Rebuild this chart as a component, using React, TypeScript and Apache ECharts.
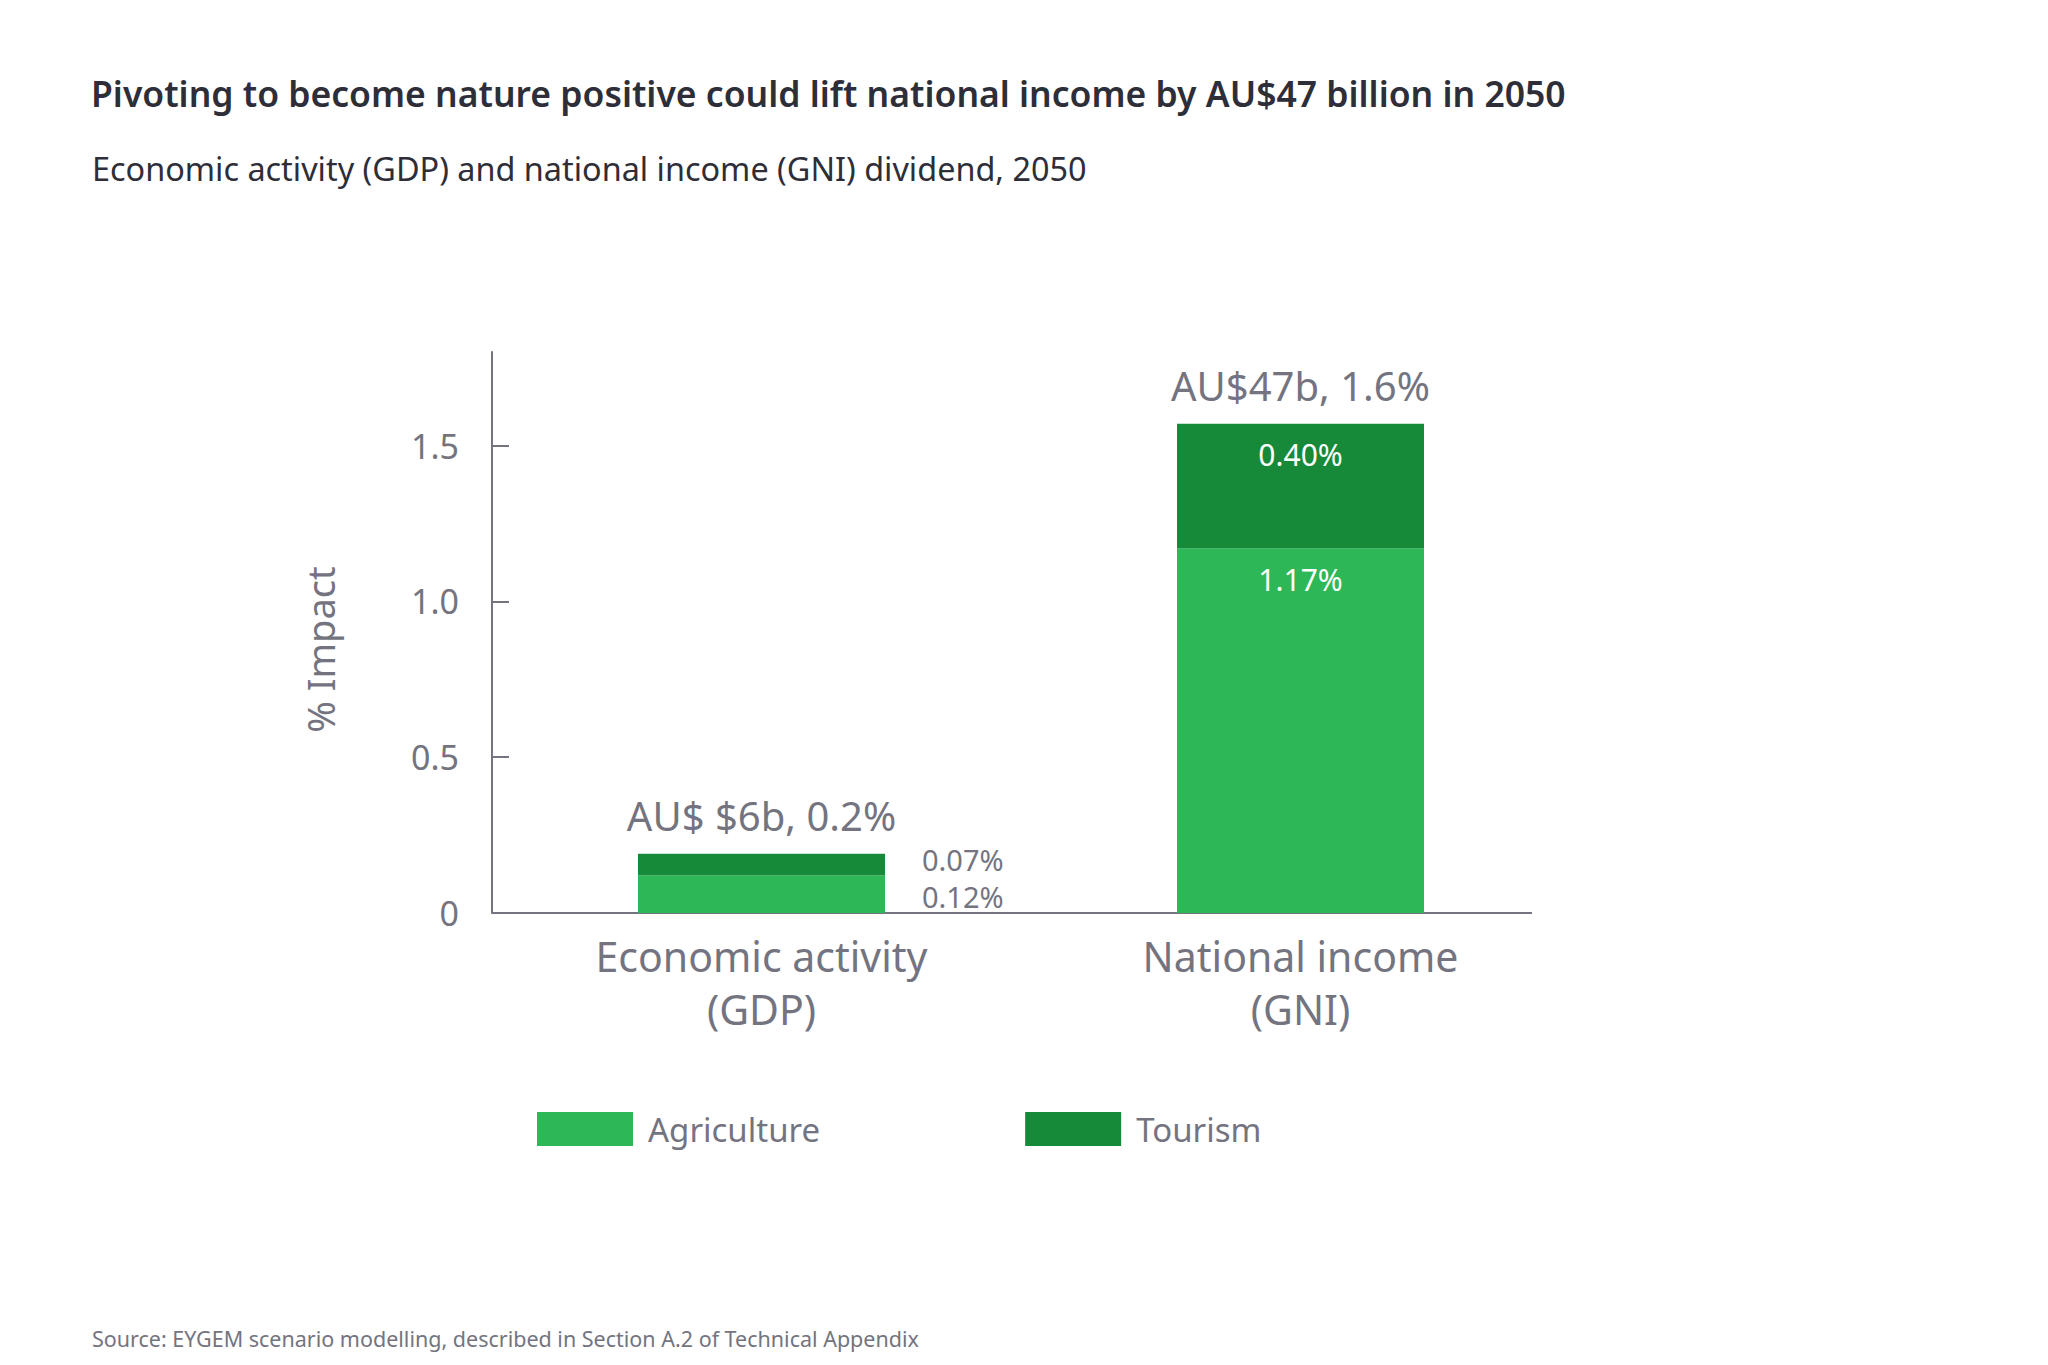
import React, { useEffect, useRef } from "react";
import * as echarts from "echarts";

const categories = ["Economic activity\n(GDP)", "National income\n(GNI)"];
const agriculture = [0.12, 1.17];
const tourism = [0.07, 0.4];
const agricultureLabels = ["0.12%", "1.17%"];
const tourismLabels = ["0.07%", "0.40%"];
const totalLabels = ["AU$ $6b, 0.2%", "AU$47b, 1.6%"];
const yTicks = { min: 0, max: 1.8, interval: 0.5 };

const GREY = "#747480";
const LIGHT = "#2DB757";
const DARK = "#178A39";
const FONT = "'Noto Sans', 'DejaVu Sans', sans-serif";

export default function App() {
  const ref = useRef<HTMLDivElement>(null);
  useEffect(() => {
    if (!ref.current) return;
    const chart = echarts.init(ref.current, undefined, { renderer: "svg" });
    const totals = agriculture.map((a, i) => +(a + tourism[i]).toFixed(2));
    const labelFor = (i: number, text: string, seg: "agri" | "tour") =>
      i === 0
        ? {
            show: true, position: "right", distance: 37, color: GREY, fontSize: 29, lineHeight: 28,
            fontFamily: FONT, formatter: text, offset: seg === "tour" ? [0, -5] : [0, 2],
          }
        : { show: true, position: "insideTop", distance: 16, color: "#ffffff", fontSize: 30, fontFamily: FONT, formatter: text };
    chart.setOption({
      animation: false,
      textStyle: { fontFamily: FONT },
      title: [
        {
          text: "Pivoting to become nature positive could lift national income by AU$47 billion in 2050",
          left: 86, top: 70,
          textStyle: { fontSize: 35.5, fontWeight: 600, color: "#2E2E38", fontFamily: FONT },
        },
        {
          text: "Economic activity (GDP) and national income (GNI) dividend, 2050",
          left: 87, top: 147,
          textStyle: { fontSize: 32.4, fontWeight: "normal", color: "#2E2E38", fontFamily: FONT },
        },
        {
          text: "Source: EYGEM scenario modelling, described in Section A.2 of Technical Appendix",
          left: 87, top: 1322,
          textStyle: { fontSize: 21.5, fontWeight: "normal", color: GREY, fontFamily: FONT },
        },
      ],
      legend: {
        data: ["Agriculture", "Tourism"],
        left: 532, top: 1107,
        itemWidth: 96, itemHeight: 34, itemGap: 205,
        icon: "rect",
        textStyle: { fontSize: 33, color: GREY, fontFamily: FONT, padding: [0, 0, 0, 10] },
      },
      grid: { left: 492, top: 352, width: 1078, bottom: 452 },
      xAxis: {
        type: "category",
        data: categories,
        axisLine: { show: false },
        axisTick: { show: false },
        axisLabel: { fontSize: 41, color: GREY, fontFamily: FONT, lineHeight: 53, margin: 16 },
      },
      yAxis: {
        type: "value",
        min: yTicks.min, max: yTicks.max, interval: yTicks.interval,
        name: "% Impact",
        nameLocation: "middle",
        nameGap: 153,
        nameTextStyle: { fontSize: 38, color: GREY, fontFamily: FONT, padding: [0, 34, 0, 0] },
        axisLine: { show: true, lineStyle: { color: GREY, width: 2 } },
        axisTick: { show: true, inside: true, length: 17, lineStyle: { color: GREY, width: 2 } },
        splitLine: { show: false },
        axisLabel: {
          fontSize: 34, color: GREY, fontFamily: FONT, margin: 33, showMaxLabel: false,
          formatter: (v: number) => (v === 0 ? "0" : v.toFixed(1)),
        },
      },
      graphic: [
        { type: "line", shape: { x1: 492, y1: 913, x2: 1532, y2: 913 }, style: { stroke: GREY, lineWidth: 2 } },
      ],
      series: [
        {
          name: "Agriculture", type: "bar", stack: "s", barWidth: 247,
          itemStyle: { color: LIGHT },
          data: agriculture.map((v, i) => ({ value: v, label: labelFor(i, agricultureLabels[i], "agri") })),
        },
        {
          name: "Tourism", type: "bar", stack: "s", barWidth: 247,
          itemStyle: { color: DARK },
          data: tourism.map((v, i) => ({ value: v, label: labelFor(i, tourismLabels[i], "tour") })),
        },
        {
          name: "Total", type: "bar", barWidth: 247, barGap: "-100%", z: 1,
          itemStyle: { color: "transparent" },
          label: {
            show: true, position: "top", distance: 18, fontSize: 40, color: GREY, fontFamily: FONT,
            formatter: (p: any) => totalLabels[p.dataIndex],
          },
          data: totals,
        },
      ],
    });
    return () => chart.dispose();
  }, []);
  return <div ref={ref} style={{ position: "absolute", left: 0, top: 0, width: 2048, height: 1365, background: "#fff" }} />;
}
